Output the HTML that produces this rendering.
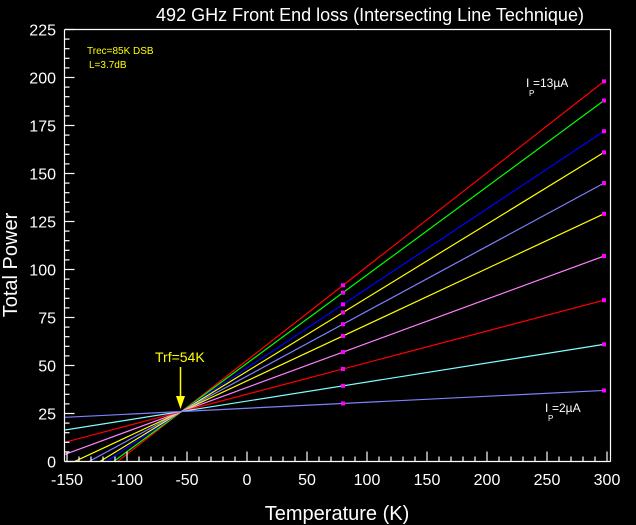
<!DOCTYPE html>
<html><head><meta charset="utf-8"><style>
html,body{margin:0;padding:0;background:#000;}
svg{display:block;font-family:"Liberation Sans",sans-serif;}
</style></head><body>
<svg id="s" width="636" height="525" viewBox="0 0 636 525" xmlns="http://www.w3.org/2000/svg">
<rect width="636" height="525" fill="#000"/>
<defs><clipPath id="c"><rect x="65" y="30" width="545" height="431"/></clipPath></defs>
<text x="370" y="21" fill="#fff" font-size="18" text-anchor="middle">492 GHz Front End loss (Intersecting Line Technique)</text>
<g id="lines" clip-path="url(#c)"></g>
<g id="ax" stroke="#fff" stroke-width="1.2" fill="none">
<line x1="64.5" y1="29.5" x2="610.5" y2="29.5"/>
<line x1="64.5" y1="29.5" x2="64.5" y2="461.5"/>
<line x1="610.5" y1="29.5" x2="610.5" y2="461.5"/>
<line x1="64.5" y1="461.5" x2="610.5" y2="461.5"/>
</g>
<g id="tl" fill="#fff" font-size="16"></g>
<text x="87" y="54" fill="#ff0" font-size="10">Trec=85K DSB</text>
<text x="89" y="68" fill="#ff0" font-size="10">L=3.7dB</text>
<text x="526" y="87" fill="#fff" font-size="12">I</text><text x="529" y="96" fill="#fff" font-size="8">P</text><text x="533" y="87" fill="#fff" font-size="12">=13µA</text>
<text x="545" y="412" fill="#fff" font-size="12">I</text><text x="548" y="421" fill="#fff" font-size="8">P</text><text x="552" y="412" fill="#fff" font-size="12">=2µA</text>
<text x="155" y="362" fill="#ff0" font-size="14">Trf=54K</text>
<line x1="180.5" y1="367" x2="180.5" y2="400" stroke="#ff0" stroke-width="1.5"/>
<polygon points="176,396 185,396 180.5,409" fill="#ff0"/>
<text x="337" y="520" fill="#fff" font-size="20" text-anchor="middle">Temperature (K)</text>
<text transform="translate(17,265) rotate(-90)" fill="#fff" font-size="20" text-anchor="middle">Total Power</text>
</svg>
<script>
var NS="http://www.w3.org/2000/svg",s=document.getElementById('s');
function X(t){return 247+1.2*t;} function Y(v){return 461.5-1.92*v;}
function el(p,n,a,txt){var e=document.createElementNS(NS,n);for(var k in a)e.setAttribute(k,a[k]);if(txt!=null)e.textContent=txt;p.appendChild(e);return e;}
var ax=document.getElementById('ax'),tl=document.getElementById('tl');
for(var v=0;v<=225;v+=5){var y=Y(v);var L=(v%25==0)?10:5;el(ax,'line',{x1:64.5,y1:y,x2:64.5+L,y2:y});}
for(var v=0;v<=225;v+=25)el(tl,'text',{x:56,y:Y(v)+6,'text-anchor':'end'},v);
for(var t=-150;t<=300;t+=10){var x=X(t);var L=(t%50==0)?10:5;el(ax,'line',{x1:x,y1:461.5,x2:x,y2:461.5-L});}
for(var t=-150;t<=300;t+=50)el(tl,'text',{x:X(t),y:485,'text-anchor':'middle'},t);
var ends=[198,188,172,161,145,129,107,84,61,37];
var cols=['#ff0000','#00ff00','#0000ff','#ffff00','#8080ff','#ffff00','#ff80ff','#ff0000','#80ffff','#8080ff'];
var g=document.getElementById('lines');
var px=181.5,py=411.5;
ends.forEach(function(v,i){var ex=604,ey=Y(v);var m=(ey-py)/(ex-px);
 el(g,'line',{x1:60,y1:py+m*(60-px),x2:ex,y2:ey,stroke:cols[i],'stroke-width':1.2});
 [343,604].forEach(function(x){var y=py+m*(x-px);el(s,'rect',{x:x-2,y:y-2,width:4,height:4,fill:'#ff00ff'});});
});
</script>
</body></html>
